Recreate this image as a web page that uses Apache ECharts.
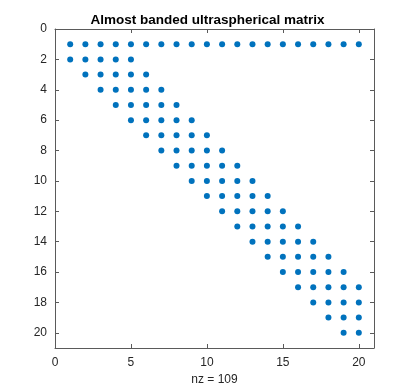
<!DOCTYPE html>
<html>
<head>
<meta charset="utf-8">
<script src="https://cdn.jsdelivr.net/npm/echarts@6/dist/echarts.min.js"></script>
<style>
  html, body { margin: 0; padding: 0; background: #fff; }
  #chart { width: 415px; height: 392px; }
</style>
</head>
<body>
<div id="chart"></div>
<script>
// nonzero columns of each matrix row (row index -> column list)
const rows = [1, 2, 3, 4, 5, 6, 7, 8, 9, 10, 11, 12, 13, 14, 15, 16, 17, 18, 19, 20]
const rowCols = [
  [1, 2, 3, 4, 5, 6, 7, 8, 9, 10, 11, 12, 13, 14, 15, 16, 17, 18, 19, 20],
  [1, 2, 3, 4, 5],
  [2, 3, 4, 5, 6],
  [3, 4, 5, 6, 7],
  [4, 5, 6, 7, 8],
  [5, 6, 7, 8, 9],
  [6, 7, 8, 9, 10],
  [7, 8, 9, 10, 11],
  [8, 9, 10, 11, 12],
  [9, 10, 11, 12, 13],
  [10, 11, 12, 13, 14],
  [11, 12, 13, 14, 15],
  [12, 13, 14, 15, 16],
  [13, 14, 15, 16, 17],
  [14, 15, 16, 17, 18],
  [15, 16, 17, 18, 19],
  [16, 17, 18, 19, 20],
  [17, 18, 19, 20],
  [18, 19, 20],
  [19, 20]
]
const xTicks = [0, 5, 10, 15, 20]
const yTicks = [0, 2, 4, 6, 8, 10, 12, 14, 16, 18, 20]

const points = []
rows.forEach((r, i) => rowCols[i].forEach(c => points.push([c, r])))

const FONT = 'Liberation Sans, Arial, sans-serif'
const AXIS_COLOR = '#5a5a5a'
const TEXT_COLOR = '#262626'

const chart = echarts.init(document.getElementById('chart'))

const baseAxis = {
  type: 'value',
  min: 0,
  max: 21,
  splitLine: { show: false },
  axisLine: { show: true, onZero: false, lineStyle: { color: AXIS_COLOR, width: 1 } },
  axisTick: { show: true, inside: true, length: 4, lineStyle: { color: AXIS_COLOR } }
}

chart.setOption({
  animation: false,
  title: {
    text: 'Almost banded ultraspherical matrix',
    left: 'center',
    top: 8,
    textStyle: { fontFamily: FONT, fontSize: 13.5, fontWeight: 'bold', color: '#000' }
  },
  grid: { left: 55, right: 41, top: 29, bottom: 44 },
  xAxis: [
    {
      ...baseAxis,
      position: 'bottom',
      interval: 5,
      name: 'nz = ' + points.length,
      nameLocation: 'middle',
      nameGap: 26,
      nameTextStyle: { fontFamily: FONT, fontSize: 12, color: TEXT_COLOR },
      axisLabel: {
        fontFamily: FONT, fontSize: 12, color: TEXT_COLOR, margin: 9,
        formatter: v => xTicks.includes(v) ? String(v) : ''
      }
    },
    {
      ...baseAxis,
      position: 'top',
      interval: 5,
      axisLabel: { show: false }
    }
  ],
  yAxis: [
    {
      ...baseAxis,
      inverse: true,
      position: 'left',
      interval: 2,
      axisLabel: {
        fontFamily: FONT, fontSize: 12, color: TEXT_COLOR, margin: 8,
        formatter: v => yTicks.includes(v) ? String(v) : ''
      }
    },
    {
      ...baseAxis,
      inverse: true,
      position: 'right',
      interval: 2,
      axisLabel: { show: false }
    }
  ],
  series: [{
    type: 'scatter',
    data: points,
    symbol: 'circle',
    symbolSize: 6,
    itemStyle: { color: '#0072BD', opacity: 1 }
  }]
})
</script>
</body>
</html>
